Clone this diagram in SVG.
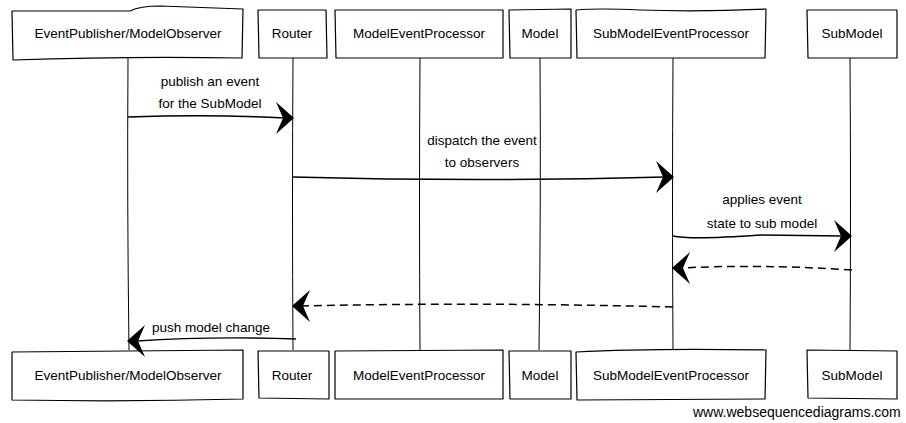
<svg xmlns="http://www.w3.org/2000/svg" xmlns:xlink="http://www.w3.org/1999/xlink" width="906" height="423" viewBox="0 0 906 423">
<style>
.box{fill:#fff;stroke:#000;stroke-width:1.2;stroke-linejoin:round}
.life{fill:none;stroke:#000;stroke-width:1}
.msg{fill:none;stroke:#000;stroke-width:1.5}
.dash{stroke-dasharray:8 5}
.head{fill:#000}
.t{font-family:"Liberation Sans",Arial,sans-serif;font-size:13.5px;fill:#000;text-anchor:middle}
.wm{font-family:"Liberation Sans",Arial,sans-serif;font-size:14px;fill:#000}
</style>
<defs>
<path id="ah" class="head" d="M1,0 L-17,-16 Q-13,-7 -10,0 Q-13,7 -17,16 Z"/>
</defs>
<rect width="906" height="423" fill="#fff"/>
<g id="lifelines">
<path class="life" d="M128,58 Q127,200 129,350"/>
<path class="life" d="M293,58 Q292,200 293,350"/>
<path class="life" d="M420,58 Q419,200 420,350"/>
<path class="life" d="M540,58 Q541,200 539,350"/>
<path class="life" d="M673,58 Q672,200 673,350"/>
<path class="life" d="M850,58 Q851,200 850,350"/>
</g>
<g id="n1-top"><path class="box" d="M12,11 L130,11 Q140,6 160,6 L243,9 L242,58 Q130,56 13,60 Z"/><text class="t" x="128" y="38">EventPublisher/ModelObserver</text></g>
<g id="n2-top"><path class="box" d="M258,10 L326,10 L327,58 L259,58 Z"/><text class="t" x="292" y="38">Router</text></g>
<g id="n3-top"><path class="box" d="M335,10 L503,10 L503,58 L336,58 Z"/><text class="t" x="419" y="38">ModelEventProcessor</text></g>
<g id="n4-top"><path class="box" d="M509,10 L571,9 L571,58 L510,58 Z"/><text class="t" x="540" y="38">Model</text></g>
<g id="n5-top"><path class="box" d="M576,10 Q600,8 640,10 Q700,12 766,9 L765,58 L577,58 Z"/><text class="t" x="671" y="38">SubModelEventProcessor</text></g>
<g id="n6-top"><path class="box" d="M807,10 L897,10 L897,58 L808,58 Z"/><text class="t" x="852" y="38">SubModel</text></g>
<g id="n1-bot"><path class="box" d="M12,352 L243,350 L243,399 Q130,402 12,400 Z"/><text class="t" x="128" y="380">EventPublisher/ModelObserver</text></g>
<g id="n2-bot"><path class="box" d="M258,351 L329,351 L329,399 L259,398 Z"/><text class="t" x="292" y="380">Router</text></g>
<g id="n3-bot"><path class="box" d="M335,351 L503,350 L503,399 L335,399 Z"/><text class="t" x="419" y="380">ModelEventProcessor</text></g>
<g id="n4-bot"><path class="box" d="M509,351 L571,351 L571,399 L510,399 Z"/><text class="t" x="540" y="380">Model</text></g>
<g id="n5-bot"><path class="box" d="M576,352 Q650,348 766,350 L765,399 L577,400 Z"/><text class="t" x="671" y="380">SubModelEventProcessor</text></g>
<g id="n6-bot"><path class="box" d="M807,350 L897,351 L897,399 L808,398 Z"/><text class="t" x="852" y="380">SubModel</text></g>
<g id="connectors">
<path class="msg" d="M128,117 Q210,114 285,118"/>
<use xlink:href="#ah" transform="translate(293,118)"/>
<path class="msg" d="M293,177 Q480,182 665,177"/>
<use xlink:href="#ah" transform="translate(673,177)"/>
<path class="msg" d="M673,236 Q690,240 760,235 L842,236"/>
<use xlink:href="#ah" transform="translate(851,236)"/>
<path class="msg dash" d="M852,270 Q760,264 682,268"/>
<use xlink:href="#ah" transform="translate(673,268) rotate(180)"/>
<path class="msg dash" d="M673,307 Q480,302 302,306"/>
<use xlink:href="#ah" transform="translate(293,306) rotate(180)"/>
<path class="msg" d="M296,339 Q210,336 137,341"/>
<use xlink:href="#ah" transform="translate(128,341) rotate(180)"/>
</g>
<g id="labels">
<text class="t" x="210" y="86">publish an event</text>
<text class="t" x="210" y="108">for the SubModel</text>
<text class="t" x="482" y="145">dispatch the event</text>
<text class="t" x="482" y="167">to observers</text>
<text class="t" x="762" y="204">applies event</text>
<text class="t" x="762" y="228">state to sub model</text>
<text class="t" x="211" y="332">push model change</text>
</g>
<text class="wm" x="693" y="417">www.websequencediagrams.com</text>
</svg>
